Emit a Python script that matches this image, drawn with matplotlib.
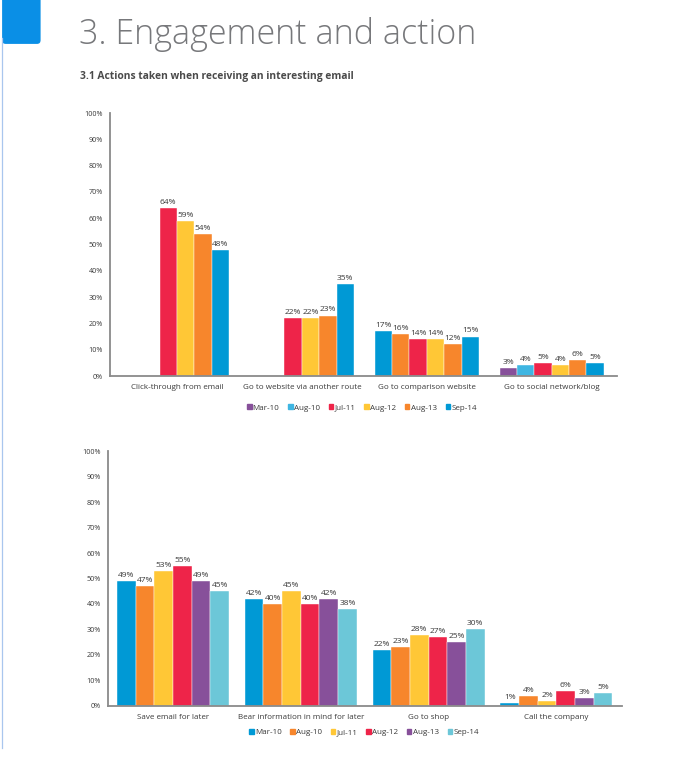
import numpy as np
import matplotlib
matplotlib.use("Agg")
import matplotlib.pyplot as plt
from matplotlib.patches import Patch, FancyBboxPatch
from matplotlib.lines import Line2D

# --- data -------------------------------------------------------------
top_categories = ["Click-through from email", "Go to website via another route",
                  "Go to comparison website", "Go to social network/blog"]
top_series = ["Mar-10", "Aug-10", "Jul-11", "Aug-12", "Aug-13", "Sep-14"]
top_mar10 = [np.nan, np.nan, 17, 3]
top_aug10 = [np.nan, np.nan, 16, 4]
top_jul11 = [64, 22, 14, 5]
top_aug12 = [59, 22, 14, 4]
top_aug13 = [54, 23, 12, 6]
top_sep14 = [48, 35, 15, 5]

bottom_categories = ["Save email for later", "Bear information in mind for later",
                     "Go to shop", "Call the company"]
bottom_series = ["Mar-10", "Aug-10", "Jul-11", "Aug-12", "Aug-13", "Sep-14"]
bot_mar10 = [49, 42, 22, 1]
bot_aug10 = [47, 40, 23, 4]
bot_jul11 = [53, 45, 28, 2]
bot_aug12 = [55, 40, 27, 6]
bot_aug13 = [49, 42, 25, 3]
bot_sep14 = [45, 38, 30, 5]

yticks = [0, 10, 20, 30, 40, 50, 60, 70, 80, 90, 100]

RED = "#ee2449"
YELLOW = "#ffc736"
ORANGE = "#f7862c"
BLUE = "#0099d5"
PURPLE = "#87509a"
LBLUE = "#3fb6e2"
CYAN = "#6cc7d8"

top_colors = [PURPLE, LBLUE, RED, YELLOW, ORANGE, BLUE]
# the original colours the comparison-website group differently
top_group_override = {2: [BLUE, ORANGE, RED, YELLOW, ORANGE, BLUE]}
bottom_colors = [BLUE, ORANGE, YELLOW, RED, PURPLE, CYAN]

TXT = "#3a3a3a"


def draw_panel(ax, cats, series_names, values, colors, bar_w, overrides=None):
    overrides = overrides or {}
    x = np.arange(len(cats))
    n = len(values)
    for i, vals in enumerate(values):
        offs = (i - (n - 1) / 2) * bar_w
        cols = [overrides.get(g, colors)[i] for g in range(len(cats))]
        ax.bar(x + offs, np.nan_to_num(vals), width=bar_w, color=cols,
               edgecolor="white", linewidth=0.3)
        for g, v in enumerate(vals):
            if np.isnan(v):
                continue
            ax.text(x[g] + offs, v + 0.8, f"{int(v)}%", ha="center", va="bottom",
                    fontsize=6.0, color=TXT)
    ax.set_ylim(0, 100)
    ax.set_yticks(yticks)
    ax.set_yticklabels([f"{t}%" for t in yticks], fontsize=5.2, color=TXT)
    ax.set_xticks(x)
    ax.set_xticklabels(cats, fontsize=5.8, color=TXT)
    ax.tick_params(length=0, pad=6)
    ax.tick_params(axis="y", pad=5)
    for s in ["top", "right"]:
        ax.spines[s].set_visible(False)
    for s in ["left", "bottom"]:
        ax.spines[s].set_color("#8a8a8a")
        ax.spines[s].set_linewidth(1.3)


fig = plt.figure(figsize=(7.0, 7.57), dpi=100)
plt.rcParams["font.family"] = ["Open Sans", "DejaVu Sans"]

# header decoration
fig.patches.append(FancyBboxPatch((0.003, 0.942), 0.055, 0.065, boxstyle="round,pad=0,rounding_size=0.005",
                                  transform=fig.transFigure, facecolor="#0a8fe6", edgecolor="none"))
fig.lines.append(Line2D([0.0035, 0.0035], [0.012, 0.95], transform=fig.transFigure,
                        color="#a9c6ee", linewidth=0.9))

fig.text(0.113, 0.942, "3. Engagement and action", fontsize=24.5, color="#77787b",
         fontweight="light", va="baseline", ha="left")
fig.text(0.115, 0.895, "3.1 Actions taken when receiving an interesting email", fontsize=7.4,
         color="#4a4a4a", fontweight="bold", va="baseline", ha="left")

ax1 = fig.add_axes([0.157, 0.5033, 0.724, 0.3474])
draw_panel(ax1, top_categories, top_series,
           [top_mar10, top_aug10, top_jul11, top_aug12, top_aug13, top_sep14],
           top_colors, 0.139, top_group_override)
ax1.set_xlim(-0.536, 3.52)

ax2 = fig.add_axes([0.154, 0.0674, 0.734, 0.3368])
draw_panel(ax2, bottom_categories, bottom_series,
           [bot_mar10, bot_aug10, bot_jul11, bot_aug12, bot_aug13, bot_sep14],
           bottom_colors, 0.146)
ax2.set_xlim(-0.51, 3.51)

leg_kw = dict(ncol=6, frameon=False, fontsize=5.8, handlelength=0.55, handleheight=0.55,
              handletextpad=0.15, columnspacing=1.1, labelcolor=TXT, loc="center")
fig.legend([Patch(color=c) for c in top_colors], top_series,
           bbox_to_anchor=(0.517, 0.461), **leg_kw)
fig.legend([Patch(color=c) for c in bottom_colors], bottom_series,
           bbox_to_anchor=(0.52, 0.032), **leg_kw)

fig.savefig("out.png", dpi=100, facecolor="white")
